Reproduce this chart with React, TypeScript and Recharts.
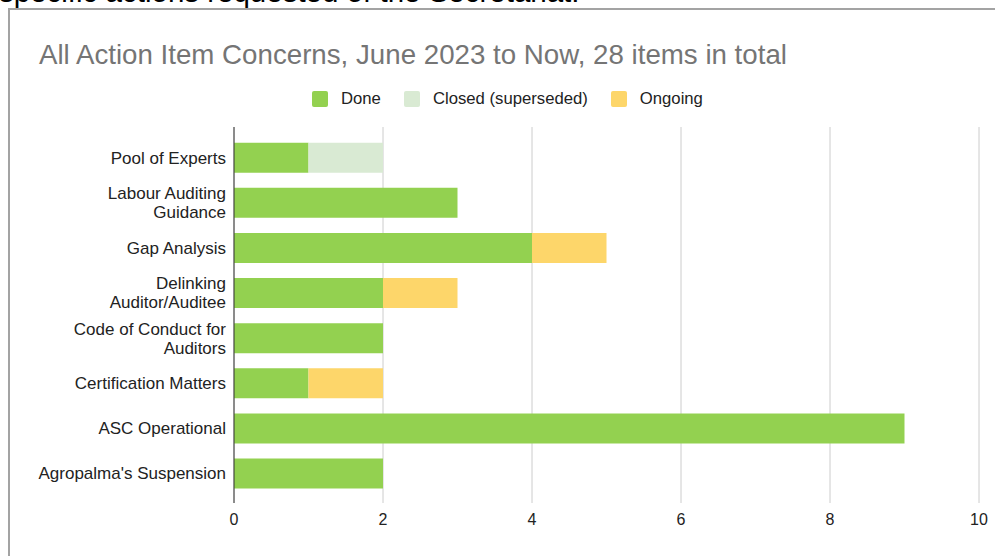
import React from 'react';
import { BarChart, Bar, XAxis, YAxis, CartesianGrid } from 'recharts';

// categories, top to bottom
const categories = [
  'Pool of Experts',
  'Labour Auditing Guidance',
  'Gap Analysis',
  'Delinking Auditor/Auditee',
  'Code of Conduct for Auditors',
  'Certification Matters',
  'ASC Operational',
  "Agropalma's Suspension",
];

const done = [1, 3, 4, 2, 2, 1, 9, 2];
const closed = [1, 0, 0, 0, 0, 0, 0, 0];
const ongoing = [0, 0, 1, 1, 0, 1, 0, 0];

const xTicks = [0, 2, 4, 6, 8, 10];

const series = [
  { key: 'done', name: 'Done', color: '#93d150' },
  { key: 'closed', name: 'Closed (superseded)', color: '#d9ead3' },
  { key: 'ongoing', name: 'Ongoing', color: '#fdd66a' },
];

const data = categories.map((name, i) => ({
  name,
  done: done[i],
  closed: closed[i],
  ongoing: ongoing[i],
}));

const FONT = '"Liberation Sans", Arial, sans-serif';

// greedy word wrap, like the sheets chart does for long labels
const wrapLabel = (text: string, maxChars: number) => {
  const words = text.split(' ');
  const lines: string[] = [];
  let cur = '';
  words.forEach((w) => {
    const next = cur ? cur + ' ' + w : w;
    if (next.length > maxChars && cur) {
      lines.push(cur);
      cur = w;
    } else {
      cur = next;
    }
  });
  if (cur) lines.push(cur);
  return lines;
};

const CategoryTick = (props: any) => {
  const { x, y, payload } = props;
  const lines = wrapLabel(payload.value, 22);
  const lh = 19;
  const start = -((lines.length - 1) * lh) / 2 + 6;
  return (
    <text x={x} y={y} textAnchor="end" fill="#222" fontSize={17} fontFamily={FONT}>
      {lines.map((l, i) => (
        <tspan key={i} x={x} dy={i === 0 ? start : lh}>
          {l}
        </tspan>
      ))}
    </text>
  );
};

const ValueTick = (props: any) => {
  const { x, y, payload } = props;
  return (
    <text x={x} y={y} dy={12} textAnchor="middle" fill="#222" fontSize={16} fontFamily={FONT}>
      {payload.value}
    </text>
  );
};

export default function App() {
  return (
    <div
      style={{
        position: 'absolute',
        left: 0,
        top: 0,
        width: 995,
        height: 556,
        overflow: 'hidden',
        background: '#fff',
        fontFamily: FONT,
      }}
    >
      {/* text line of the surrounding document, cut off at the top */}
      <div
        style={{
          position: 'absolute',
          left: -1,
          top: -23,
          fontSize: 29.5,
          lineHeight: 1,
          color: '#000',
          whiteSpace: 'nowrap',
        }}
      >
        specific actions requested of the Secretariat.
      </div>

      {/* chart frame */}
      <div
        style={{
          position: 'absolute',
          left: 8,
          top: 8,
          width: 1200,
          height: 800,
          border: '2px solid #a3a3a3',
        }}
      />

      <div
        style={{
          position: 'absolute',
          left: 39,
          top: 40,
          fontSize: 27.7,
          lineHeight: '30px',
          color: '#757575',
          whiteSpace: 'nowrap',
        }}
      >
        All Action Item Concerns, June 2023 to Now, 28 items in total
      </div>

      <div
        style={{
          position: 'absolute',
          left: 312,
          top: 89,
          display: 'flex',
          alignItems: 'center',
          fontSize: 16.7,
          color: '#222',
          whiteSpace: 'nowrap',
        }}
      >
        {series.map((s) => (
          <div key={s.key} style={{ display: 'flex', alignItems: 'center', marginRight: 23 }}>
            <span
              style={{
                display: 'inline-block',
                width: 16,
                height: 16,
                borderRadius: 2,
                background: s.color,
                marginRight: 13,
              }}
            />
            <span>{s.name}</span>
          </div>
        ))}
      </div>

      <div style={{ position: 'absolute', left: 0, top: 0 }}>
        <BarChart
          width={995}
          height={556}
          data={data}
          layout="vertical"
          margin={{ top: 127, right: 16, bottom: 23, left: 0 }}
          barCategoryGap="17%"
        >
          <CartesianGrid horizontal={false} stroke="#cccccc" />
          <XAxis
            type="number"
            domain={[0, 10]}
            ticks={xTicks}
            axisLine={false}
            tickLine={false}
            tickMargin={4}
            height={30}
            tick={<ValueTick />}
          />
          <YAxis
            type="category"
            dataKey="name"
            width={234}
            padding={{ top: 8, bottom: 7 }}
            axisLine={{ stroke: '#333', strokeWidth: 1 }}
            tickLine={false}
            tick={<CategoryTick />}
            interval={0}
          />
          {series.map((s) => (
            <Bar
              key={s.key}
              dataKey={s.key}
              name={s.name}
              stackId="a"
              fill={s.color}
              isAnimationActive={false}
            />
          ))}
        </BarChart>
      </div>
    </div>
  );
}
